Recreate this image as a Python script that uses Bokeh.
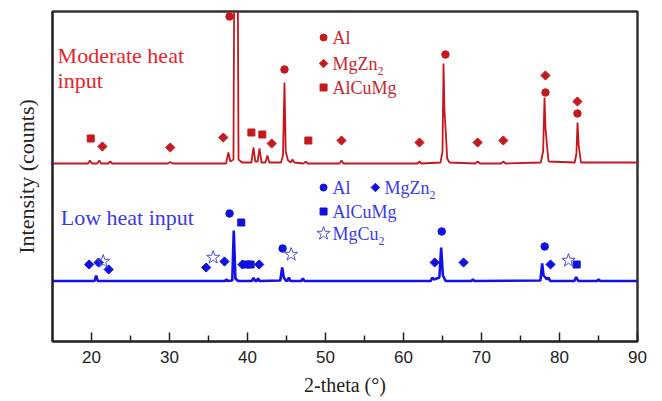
from bokeh.plotting import figure
from bokeh.models import Range1d, FixedTicker
from bokeh.core.properties import value
from bokeh.embed import file_html
from bokeh.resources import INLINE
import math

# ---------------- data (2-theta in degrees, intensity in arbitrary units) -------------
red_x = [15, 19.55, 19.8, 20.05, 20.75, 21.0, 21.25, 22.15, 22.4, 22.65, 29.8, 30.1, 30.4,
         37.25, 37.55, 37.8, 38.2, 38.33, 38.72, 38.85, 39.3, 40.5, 40.77, 41.0, 41.3, 41.54,
         41.8, 42.3, 42.56, 42.8, 44.3, 44.55, 44.74, 44.9, 45.2, 45.55, 45.77, 46.0, 47.2,
         47.44, 47.7, 51.8, 52.05, 52.3, 61.8, 62.05, 62.3, 64.75, 65.0, 65.13, 65.25, 65.4,
         65.6, 65.9, 69.2, 69.5, 69.8, 72.5, 72.8, 73.1, 77.6, 77.9, 78.08, 78.2, 78.35, 78.6,
         81.95, 82.17, 82.31, 82.45, 82.75, 90]
red_y = [178, 178, 181, 178, 178, 181, 178, 178, 180, 178, 178, 179.5, 178,
         178, 189, 180, 182, 420, 420, 182, 179, 179, 194, 180, 180, 193,
         179, 179, 186, 179, 179, 186, 259, 190, 181, 179, 182, 179, 178,
         180, 178, 178, 181, 178, 178, 180, 178, 179, 190, 278, 232, 212,
         183, 179, 178, 180, 178, 178, 180, 178, 179, 190, 244, 214, 200, 180,
         179, 188, 219, 197, 179, 179]

blue_x = [15, 20.4, 20.6, 20.8, 37.1, 37.3, 37.5, 38.05, 38.24, 38.45, 38.8, 40.55, 40.77,
          41.0, 41.15, 41.35, 41.55, 44.2, 44.45, 44.65, 44.9, 45.1, 45.3, 45.5, 46.9, 47.1,
          47.3, 63.5, 63.7, 63.9, 64.6, 64.83, 65.05, 65.4, 68.7, 68.9, 69.1, 77.55, 77.78,
          77.95, 78.4, 78.6, 78.8, 81.9, 82.14, 82.4, 84.8, 85.0, 85.2, 90]
blue_y = [60.5, 60.5, 66, 60.5, 60.5, 62, 60.5, 61, 111, 63, 60.5, 60.5, 63.5,
          60.5, 60.5, 63, 60.5, 61, 74, 64, 61, 60.5, 64, 60.5, 60.5, 63,
          60.5, 60.5, 64, 62, 64, 94, 66, 60.5, 60.5, 62, 60.5, 61, 78,
          66, 62, 64, 60.5, 60.5, 64.5, 60.5, 60.5, 62, 60.5, 60.5]

# phase markers: moderate heat input (red)
red_al_x = [37.7, 44.74, 65.38, 78.2, 82.3]
red_al_y = [325, 272, 287, 249, 228]
red_mgzn2_x = [21.4, 30.1, 36.9, 43.1, 52.05, 62.05, 69.5, 72.8, 78.2, 82.3]
red_mgzn2_y = [195, 194, 204, 198, 201, 199, 199, 201, 266, 240]
red_alcumg_x = [19.9, 40.5, 41.9, 47.8]
red_alcumg_y = [203, 209, 207, 201]

# phase markers: low heat input (blue)
blue_al_x = [37.7, 44.5, 64.9, 78.1]
blue_al_y = [128, 93, 110, 95]
blue_mgzn2_x = [19.7, 20.9, 22.2, 34.7, 37.05, 39.35, 41.5, 64.0, 67.7, 78.85]
blue_mgzn2_y = [77, 79, 72, 74, 80, 77, 77, 79, 79, 77]
blue_alcumg_x = [39.2, 39.9, 40.4, 82.2]
blue_alcumg_y = [119, 77, 77, 77]
blue_mgcu2_x = [21.5, 35.6, 45.6, 81.15]
blue_mgcu2_y = [80, 84, 87, 81]

x_ticks = [20, 30, 40, 50, 60, 70, 80, 90]
x_minor = [25, 35, 45, 55, 65, 75, 85]

# ---------------- styles ----------------
RED_LINE = "#c8161e"
RED_MARK = "#c41a1e"
RED_TEXT = "#e8242a"
RED_LEG = "#c8262c"
BLUE_LINE = "#1212e8"
BLUE_MARK = "#1010e0"
BLUE_TEXT = "#3a3aea"
STAR_COL = "#5050e0"
SERIF = value("Liberation Serif")
ROT = math.pi / 4

p = figure(frame_width=585, frame_height=330,
           x_range=Range1d(15, 90), y_range=Range1d(0, 330),
           output_backend="svg", toolbar_location=None,
           min_border_left=52, min_border_right=24, min_border_top=11, min_border_bottom=59)

p.xgrid.visible = False
p.ygrid.visible = False
p.outline_line_color = "#333333"
p.outline_line_width = 2.5
p.background_fill_color = "white"
p.border_fill_color = "white"

# x axis
xa = p.xaxis[0]
xa.ticker = FixedTicker(ticks=x_ticks, minor_ticks=x_minor)
xa.major_tick_in = 9
xa.major_tick_out = 0
xa.minor_tick_in = 6
xa.minor_tick_out = 0
xa.major_tick_line_width = 1.5
xa.minor_tick_line_width = 1.5
xa.major_tick_line_color = "#222222"
xa.minor_tick_line_color = "#222222"
xa.axis_line_color = "#222222"
xa.axis_line_width = 1.5
xa.major_label_text_font = "Liberation Sans"
xa.major_label_text_font_size = "17px"
xa.major_label_text_color = "#222222"
xa.major_label_standoff = 9
xa.axis_label = "2-theta (\u00b0)"
xa.axis_label_text_font = "Liberation Serif"
xa.axis_label_text_font_style = "normal"
xa.axis_label_text_font_size = "20px"
xa.axis_label_text_color = "#222222"
xa.axis_label_standoff = 8

# y axis
ya = p.yaxis[0]
ya.ticker = FixedTicker(ticks=[])
ya.major_tick_line_color = None
ya.minor_tick_line_color = None
ya.major_label_text_font_size = "0px"
ya.major_label_standoff = 0
ya.axis_line_color = "#222222"
ya.axis_line_width = 1.5
ya.axis_label = "Intensity (counts)"
ya.axis_label_text_font = "Liberation Serif"
ya.axis_label_text_font_style = "normal"
ya.axis_label_text_font_size = "22px"
ya.axis_label_text_color = "#222222"
ya.axis_label_standoff = 14

# curves
p.line(red_x, red_y, line_color=RED_LINE, line_width=1.8)
p.line(blue_x, blue_y, line_color=BLUE_LINE, line_width=2.6)

# markers red
p.scatter(red_al_x, red_al_y, marker="circle", size=7.5, fill_color=RED_MARK, line_color=RED_MARK)
p.scatter(red_mgzn2_x, red_mgzn2_y, marker="square", angle=ROT, size=6.5,
          fill_color=RED_MARK, line_color=RED_MARK)
p.scatter(red_alcumg_x, red_alcumg_y, marker="square", size=7, fill_color=RED_MARK, line_color=RED_MARK)

# markers blue
p.scatter(blue_al_x, blue_al_y, marker="circle", size=7.5, fill_color=BLUE_MARK, line_color=BLUE_MARK)
p.scatter(blue_mgzn2_x, blue_mgzn2_y, marker="square", angle=ROT, size=6.5,
          fill_color=BLUE_MARK, line_color=BLUE_MARK)
p.scatter(blue_alcumg_x, blue_alcumg_y, marker="square", size=7, fill_color=BLUE_MARK, line_color=BLUE_MARK)
p.scatter(blue_mgcu2_x, blue_mgcu2_y, marker="star", size=14, fill_color=None,
          line_color=STAR_COL, line_width=1)

# sample titles
p.text(x=[15.65], y=[286], text=["Moderate heat"], text_font=SERIF, text_font_size="22px",
       text_color=RED_TEXT, text_baseline="middle", text_align="left")
p.text(x=[15.65], y=[261], text=["input"], text_font=SERIF, text_font_size="22px",
       text_color=RED_TEXT, text_baseline="middle", text_align="left")
p.text(x=[16.05], y=[124], text=["Low heat input"], text_font=SERIF, text_font_size="22px",
       text_color=BLUE_TEXT, text_baseline="middle", text_align="left")

# legends (marker + label)
def legend_item(x, y, marker, color, label, sub=None, sub_dx=45):
    if marker == "star":
        p.scatter([x], [y], marker="star", size=14, fill_color=None, line_color=STAR_COL, line_width=1)
    elif marker == "diamond":
        p.scatter([x], [y], marker="square", angle=ROT, size=6, fill_color=color, line_color=color)
    else:
        p.scatter([x], [y], marker=marker, size=7, fill_color=color, line_color=color)
    tcol = RED_LEG if color == RED_MARK else BLUE_TEXT
    p.text(x=[x], y=[y], text=[label], x_offset=9, text_font=SERIF, text_font_size="18px",
           text_color=tcol, text_baseline="middle", text_align="left")
    if sub:
        p.text(x=[x], y=[y], text=[sub], x_offset=9 + sub_dx, y_offset=7, text_font=SERIF,
               text_font_size="12px", text_color=tcol, text_baseline="middle", text_align="left")

LX = 49.75
legend_item(LX, 304, "circle", RED_MARK, "Al")
legend_item(LX, 278, "diamond", RED_MARK, "MgZn", sub="2")
legend_item(LX, 254, "square", RED_MARK, "AlCuMg")

legend_item(LX, 154, "circle", BLUE_MARK, "Al")
legend_item(56.4, 154, "diamond", BLUE_MARK, "MgZn", sub="2")
legend_item(LX, 130, "square", BLUE_MARK, "AlCuMg")
legend_item(LX, 108, "star", BLUE_MARK, "MgCu", sub="2", sub_dx=46)

open("out.html", "w").write(file_html(p, INLINE))
